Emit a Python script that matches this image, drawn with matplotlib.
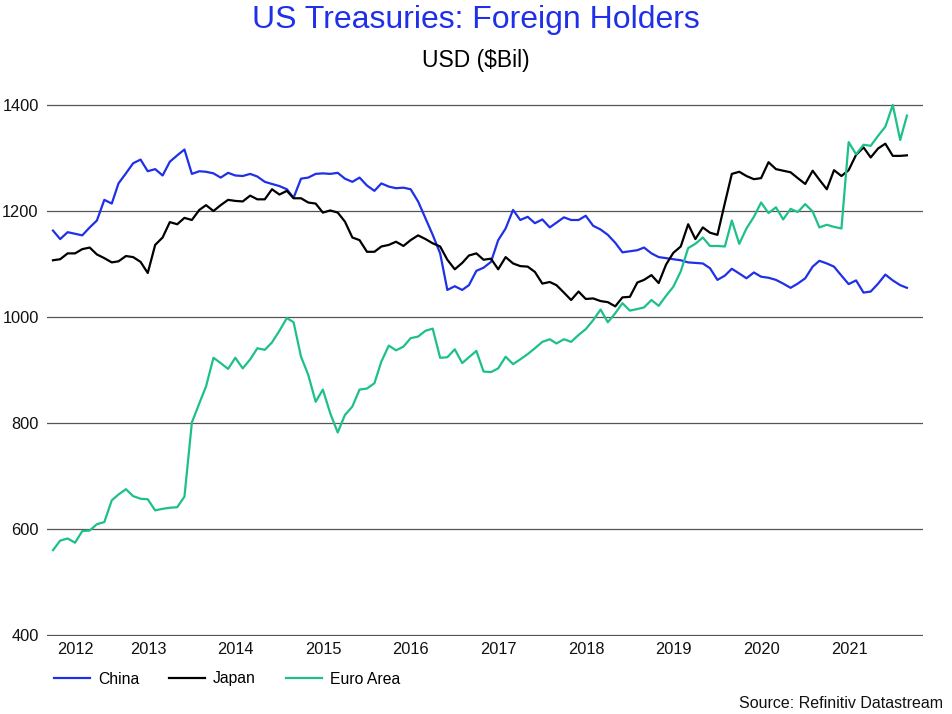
import numpy as np
import pandas as pd
import matplotlib
matplotlib.use('Agg')
import matplotlib.pyplot as plt
import matplotlib.dates as mdates
from matplotlib.lines import Line2D

plt.rcParams['font.family'] = ['Liberation Sans', 'DejaVu Sans']

# monthly holdings, USD bil, Jun 2012 - Mar 2022
china = [1163, 1147, 1160, 1157, 1154, 1169, 1182, 1221, 1214, 1252,
         1271, 1290, 1297, 1275, 1279, 1267, 1293, 1305, 1316, 1270,
         1275, 1274, 1271, 1263, 1272, 1267, 1266, 1270, 1265, 1255,
         1251, 1247, 1241, 1225, 1261, 1263, 1270, 1271, 1270, 1272,
         1261, 1255, 1263, 1248, 1238, 1252, 1246, 1243, 1244, 1241,
         1218, 1186, 1155, 1120, 1051, 1058, 1051, 1060, 1087, 1093,
         1104, 1145, 1167, 1202, 1183, 1189, 1177, 1184, 1169, 1178,
         1188, 1183, 1183, 1191, 1172, 1165, 1155, 1140, 1122, 1124,
         1126, 1131, 1120, 1113, 1111, 1109, 1107, 1103, 1102, 1101,
         1092, 1070, 1078, 1091, 1082, 1073, 1084, 1076, 1074, 1070,
         1063, 1055, 1063, 1073, 1095, 1106, 1101, 1095, 1078, 1062,
         1069, 1046, 1048, 1063, 1080, 1069, 1060, 1055]
japan = [1107, 1109, 1120, 1120, 1128, 1131, 1118, 1111, 1103, 1105,
         1115, 1113, 1104, 1083, 1136, 1150, 1179, 1175, 1187, 1183,
         1202, 1211, 1200, 1211, 1221, 1219, 1218, 1229, 1222, 1222,
         1241, 1231, 1238, 1224, 1224, 1216, 1214, 1197, 1201, 1197,
         1180, 1150, 1145, 1123, 1123, 1133, 1136, 1142, 1134, 1145,
         1154, 1147, 1139, 1133, 1108, 1090, 1102, 1116, 1120, 1108,
         1110, 1090, 1113, 1101, 1096, 1095, 1085, 1063, 1066, 1060,
         1046, 1032, 1048, 1034, 1035, 1030, 1028, 1020, 1037, 1038,
         1065, 1070, 1079, 1064, 1099, 1121, 1133, 1175, 1147, 1169,
         1159, 1155, 1215, 1270, 1274, 1266, 1260, 1262, 1292, 1279,
         1276, 1273, 1262, 1251, 1276, 1259, 1241, 1277, 1266, 1277,
         1306, 1320, 1301, 1318, 1327, 1304, 1304, 1305]
euro_area = [560, 578, 582, 574, 596, 597, 609, 613, 654, 665,
             675, 662, 657, 656, 635, 638, 640, 641, 661, 801,
             837, 869, 923, 913, 902, 923, 903, 920, 941, 938,
             952, 974, 998, 990, 925, 891, 840, 863, 818, 782,
             815, 831, 863, 865, 875, 916, 946, 937, 944, 960,
             963, 974, 978, 923, 924, 939, 913, 924, 936, 897,
             896, 903, 925, 911, 920, 930, 941, 953, 958, 950,
             958, 953, 966, 977, 994, 1014, 990, 1007, 1026, 1012,
             1015, 1018, 1032, 1021, 1040, 1057, 1086, 1130, 1138, 1150,
             1134, 1134, 1133, 1182, 1138, 1167, 1189, 1216, 1196, 1207,
             1184, 1204, 1198, 1213, 1199, 1169, 1174, 1170, 1167, 1330,
             1307, 1325, 1323, 1342, 1359, 1400, 1334, 1380]

dates = pd.date_range('2012-06-01', periods=len(china), freq='MS')
years = list(range(2012, 2022))
y_ticks = [400, 600, 800, 1000, 1200, 1400]

blue = '#1f30e8'
green = '#1dc08c'

fig = plt.figure(figsize=(9.52, 7.14), dpi=100)
ax = fig.add_axes([47 / 952, 1 - 636 / 714, 876 / 952, (636 - 94.4) / 714])

ax.plot(dates, china, color=blue, lw=1.6, label='China', clip_on=False)
ax.plot(dates, japan, color='black', lw=1.6, label='Japan', clip_on=False)
ax.plot(dates, euro_area, color=green, lw=1.6, label='Euro Area', clip_on=False)

x0 = mdates.date2num(dates[0]) - 25
x1 = mdates.date2num(dates[-1]) + 67
ax.set_xlim(x0, x1)
ax.set_ylim(398, 1420)

# year labels centred on the visible part of each year
centres = []
for yr in years:
    a = max(mdates.date2num(pd.Timestamp(f'{yr}-01-01')), x0)
    b = mdates.date2num(pd.Timestamp(f'{yr + 1}-01-01'))
    centres.append((a + b) / 2)
ax.set_xticks(centres)
ax.set_xticklabels([str(y) for y in years])
ax.set_yticks(y_ticks)
ax.set_yticklabels([str(v) for v in y_ticks])
ax.tick_params(axis='both', length=0, labelsize=11.8, colors='#111111')
ax.tick_params(axis='x', pad=4)
ax.tick_params(axis='y', pad=6)

ax.grid(axis='y', color='#555555', lw=0.9)
ax.set_axisbelow(True)
for s in ax.spines.values():
    s.set_visible(False)

fig.text(0.5, 1 - 20 / 714, 'US Treasuries: Foreign Holders', color=blue,
         fontsize=23, ha='center', va='center')
fig.text(0.5, 1 - 60 / 714, 'USD ($Bil)', color='black',
         fontsize=16.5, ha='center', va='center')

handles = [Line2D([], [], color=blue, lw=1.6),
           Line2D([], [], color='black', lw=1.6),
           Line2D([], [], color=green, lw=1.6)]
fig.legend(handles, ['China', 'Japan', 'Euro Area'], loc='center left',
           bbox_to_anchor=(51 / 952, 1 - 679 / 714), ncol=3, frameon=False,
           fontsize=11.3, handlelength=2.3, handletextpad=0.5,
           columnspacing=1.9, borderaxespad=0, borderpad=0.2)

fig.text(943 / 952, 1 - 704 / 714, 'Source: Refinitiv Datastream',
         fontsize=11.5, ha='right', va='center', color='#111111')

fig.savefig('out.png', dpi=100)
